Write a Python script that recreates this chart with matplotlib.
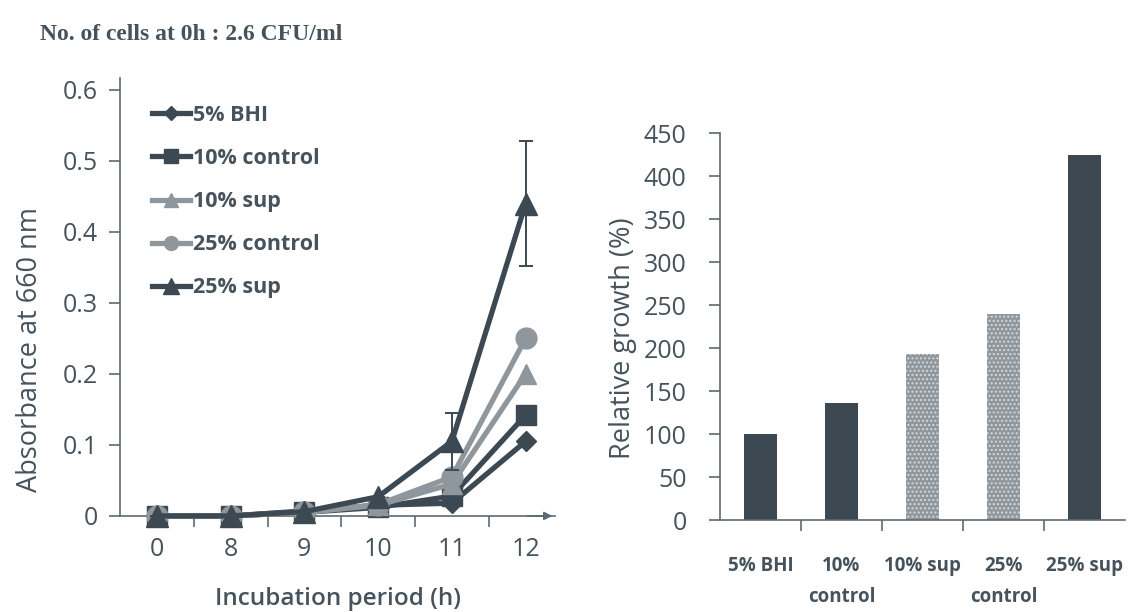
import matplotlib
matplotlib.use("Agg")
import matplotlib.pyplot as plt
from matplotlib.ticker import FixedLocator
from matplotlib.lines import Line2D

plt.rcParams['font.family'] = ['Open Sans', 'DejaVu Sans']

# ---- data ----
hours = ['0', '8', '9', '10', '11', '12']
bhi5 = [0.0, 0.0, 0.007, 0.015, 0.018, 0.105]
ctrl10 = [0.0, 0.0, 0.005, 0.012, 0.028, 0.142]
sup10 = [0.0, 0.0, 0.005, 0.015, 0.045, 0.200]
ctrl25 = [0.0, 0.0, 0.005, 0.016, 0.055, 0.250]
sup25 = [0.0, 0.0, 0.006, 0.027, 0.105, 0.440]
sup25_err = [0.0, 0.0, 0.0, 0.0, 0.040, 0.088]

groups = ['5% BHI', '10%\ncontrol', '10% sup', '25%\ncontrol', '25% sup']
growth = [100, 136, 193, 240, 425]

TXT = '#46525c'
DARK = '#3c4952'
LIGHT = '#8f979d'
AX = '#5d6972'

fig = plt.figure(figsize=(11.42, 6.12), dpi=100)
fig.patch.set_facecolor('white')

fig.text(0.035, 0.943, 'No. of cells at 0h : 2.6 CFU/ml', family='Liberation Serif',
         fontweight='bold', fontsize=17, color=TXT, va='center', ha='left')

# ---- left: growth curves ----
ax1 = fig.add_axes([0.1051, 0.157, 0.381, 0.7157])
x = list(range(len(hours)))
LW = 3.8
ax1.plot(x, bhi5, color=DARK, lw=LW, marker='D', ms=10, zorder=3, clip_on=False)
ax1.plot(x, ctrl10, color=DARK, lw=LW, marker='s', ms=14, zorder=3, clip_on=False)
ax1.plot(x, sup10, color=LIGHT, lw=LW, marker='^', ms=14, zorder=4, clip_on=False)
ax1.plot(x, ctrl25, color=LIGHT, lw=LW, marker='o', ms=15, zorder=5, clip_on=False)
ax1.errorbar(x, sup25, yerr=sup25_err, color=DARK, lw=LW, marker='^', ms=16,
             elinewidth=1.4, capsize=5, capthick=1.4, zorder=6, clip_on=False)

ax1.set_xlim(-0.5, 5.4)
ax1.set_ylim(0, 0.617)
for s in ['top', 'right']:
    ax1.spines[s].set_visible(False)
for s in ['left', 'bottom']:
    ax1.spines[s].set_color(AX)
    ax1.spines[s].set_linewidth(1.2)
ax1.annotate('', xy=(1.0, 0), xytext=(0.93, 0), xycoords='axes fraction',
             arrowprops=dict(arrowstyle='-|>', color=AX, lw=1.2, mutation_scale=12))

ax1.set_xticks(x)
ax1.set_xticklabels(hours)
ax1.xaxis.set_minor_locator(FixedLocator([0.5, 1.5, 2.5, 3.5, 4.5]))
ax1.tick_params(axis='x', which='major', length=0, pad=15, labelsize=18, labelcolor=TXT)
ax1.tick_params(axis='x', which='minor', length=8, width=1.2, color=AX, direction='out')
ax1.set_yticks([0, 0.1, 0.2, 0.3, 0.4, 0.5, 0.6])
ax1.set_yticklabels(['0', '0.1', '0.2', '0.3', '0.4', '0.5', '0.6'])
ax1.tick_params(axis='y', length=8, width=1.2, color=AX, pad=8, labelsize=18, labelcolor=TXT)

ax1.set_ylabel('Absorbance at 660 nm', fontsize=19.5, color=TXT)
ax1.yaxis.set_label_coords(-0.175, 0.38)
ax1.set_xlabel('Incubation period (h)', fontsize=17.5, color=TXT, fontweight='semibold')
ax1.xaxis.set_label_coords(0.5, -0.19)
ax1.xaxis.label.set_va('center')

handles = [
    Line2D([], [], color=DARK, lw=LW, marker='D', ms=7),
    Line2D([], [], color=DARK, lw=LW, marker='s', ms=10),
    Line2D([], [], color=LIGHT, lw=LW, marker='^', ms=10),
    Line2D([], [], color=LIGHT, lw=LW, marker='o', ms=10),
    Line2D([], [], color=DARK, lw=LW, marker='^', ms=11),
]
labels = ['5% BHI', '10% control', '10% sup', '25% control', '25% sup']
leg = ax1.legend(handles, labels, loc='upper left', bbox_to_anchor=(0.035, 0.978),
                 frameon=False, prop={'size': 15.5, 'weight': 'bold'}, labelspacing=1.03,
                 handlelength=1.75, handletextpad=0.12, borderpad=0.3)
for t in leg.get_texts():
    t.set_color(TXT)

# ---- right: relative growth bars ----
ax2 = fig.add_axes([0.6305, 0.150, 0.3546, 0.632])
bx = list(range(len(groups)))
colors = [DARK, DARK, LIGHT, LIGHT, DARK]
bars = ax2.bar(bx, growth, width=0.41, color=colors, edgecolor='none', zorder=2)
for b, c in zip(bars, colors):
    if c == LIGHT:
        b.set_hatch('....')
        b.set_edgecolor('#d4d8db')
        b.set_linewidth(0)
ax2.set_xlim(-0.5, 4.5)
ax2.set_ylim(0, 450)
for s in ['top', 'right']:
    ax2.spines[s].set_visible(False)
for s in ['left', 'bottom']:
    ax2.spines[s].set_color(AX)
    ax2.spines[s].set_linewidth(1.2)
ax2.set_xticks(bx)
ax2.set_xticklabels(groups, fontweight='bold', fontsize=13.5, color=TXT, va='top',
                    linespacing=1.7)
ax2.xaxis.set_minor_locator(FixedLocator([0.5, 1.5, 2.5, 3.5]))
ax2.tick_params(axis='x', which='major', length=0, pad=26)
ax2.tick_params(axis='x', which='minor', length=8, width=1.2, color=AX, direction='out')
ax2.set_yticks(range(0, 451, 50))
ax2.tick_params(axis='y', length=8, width=1.2, color=AX, pad=16, labelsize=18, labelcolor=TXT)
ax2.set_ylabel('Relative growth (%)', fontsize=19.5, color=TXT)
ax2.yaxis.set_label_coords(-0.205, 0.47)

fig.savefig('out.png', dpi=100, facecolor='white')
